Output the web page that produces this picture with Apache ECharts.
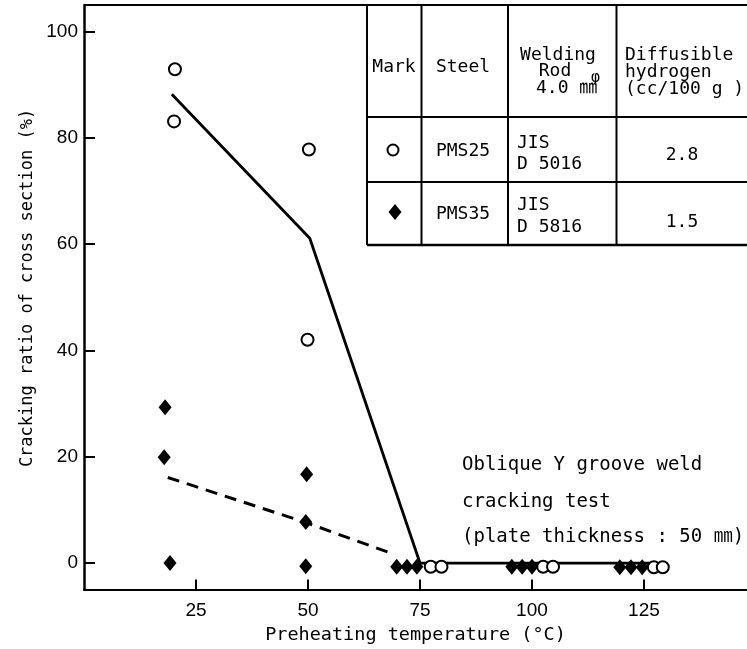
<!DOCTYPE html>
<html><head><meta charset="utf-8">
<script src="https://cdn.jsdelivr.net/npm/echarts@6/dist/echarts.min.js"></script>
<style>html,body{margin:0;padding:0;background:#fff}#c{width:747px;height:649px}</style>
</head><body><div id="c"></div>
<script>
// ---- data ----
const xTicks = [25, 50, 75, 100, 125];
const yTicks = [0, 20, 40, 60, 80, 100];
const pms25Points = [[20.3, 92.9], [20.1, 83.1], [50.2, 77.8], [49.9, 42.0],
  [77.4, -0.7], [79.8, -0.7], [102.5, -0.7], [104.7, -0.7], [127.2, -0.8], [129.2, -0.8]];
const pms35Points = [[18.1, 29.3], [17.9, 19.9], [19.2, 0], [49.7, 16.7], [49.5, 7.7], [49.5, -0.6],
  [69.8, -0.7], [72.1, -0.7], [74.3, -0.7], [95.5, -0.7], [97.8, -0.7], [100.0, -0.7],
  [119.6, -0.8], [122.1, -0.8], [124.6, -0.8]];
const pms25Trend = [[19.6, 88.2], [50.4, 61.1], [75, 0], [128, 0]];
const pms35Trend = [[18.7, 16.1], [49.6, 7.6], [69, 1.7]];
const xTitle = 'Preheating temperature (°C)';
const yTitle = 'Cracking ratio of cross section (%)';
const noteLines = ['Oblique Y groove weld', 'cracking test', '(plate thickness : 50 ㎜)'];
const headMark = 'Mark', headSteel = 'Steel';
const headRod = ['Welding', 'Rod', '4.0 ㎜', 'φ'];
const headH2 = ['Diffusible', 'hydrogen', '(cc/100 g )'];
const rowSteel = ['PMS25', 'PMS35'];
const rowRod = [['JIS', 'D 5016'], ['JIS', 'D 5816']];
const rowH2 = ['2.8', '1.5'];

// ---- layout ----
const MONO = "'DejaVu Sans Mono', 'Noto Sans CJK JP', monospace";
const SANS = "'Liberation Sans', Arial, sans-serif";
function txt(x, y, text, size, align, extra) {
  return Object.assign({ type: 'text', x: x, y: y, silent: true, z: 10,
    style: { text: text, fill: '#000', fontSize: size, fontFamily: MONO, align: align || 'left', verticalAlign: 'middle' } }, extra || {});
}
function ln(x1, y1, x2, y2, w) {
  return { type: 'line', silent: true, z: 10, shape: { x1: x1, y1: y1, x2: x2, y2: y2 }, style: { stroke: '#000', lineWidth: w || 2 } };
}
const TS = 18;
const graphic = [
  ln(84, 5, 747, 5, 2),
  // table frame
  ln(367, 5, 367, 245, 2), ln(421.5, 5, 421.5, 245, 2), ln(508, 5, 508, 245, 2), ln(616.5, 5, 616.5, 245, 2),
  ln(367, 117, 747, 117, 2), ln(367, 182, 747, 182, 2), ln(367, 245, 747, 245, 2.5),
  // header
  txt(394, 67, headMark, TS, 'center'),
  txt(463, 67, headSteel, TS, 'center'),
  txt(558, 55, headRod[0], TS, 'center'),
  txt(555, 71, headRod[1], TS, 'center'),
  txt(536, 88, headRod[2], TS, 'left'),
  txt(591, 78, headRod[3], 15, 'left'),
  txt(625, 55, headH2[0], TS, 'left'),
  txt(625, 72, headH2[1], TS, 'left'),
  txt(625, 89, headH2[2], TS, 'left'),
  // row symbols
  { type: 'circle', silent: true, z: 10, shape: { cx: 393, cy: 150, r: 5.5 }, style: { fill: '#fff', stroke: '#000', lineWidth: 2 } },
  { type: 'polygon', silent: true, z: 10, shape: { points: [[395, 204], [401.5, 212], [395, 220], [388.5, 212]] }, style: { fill: '#000' } },
  // rows
  txt(463, 151, rowSteel[0], TS, 'center'),
  txt(517, 143, rowRod[0][0], TS, 'left'),
  txt(517, 164, rowRod[0][1], TS, 'left'),
  txt(682, 155, rowH2[0], TS, 'center'),
  txt(463, 214, rowSteel[1], TS, 'center'),
  txt(517, 205, rowRod[1][0], TS, 'left'),
  txt(517, 227, rowRod[1][1], TS, 'left'),
  txt(682, 222, rowH2[1], TS, 'center'),
  // annotation
  txt(462, 465, noteLines[0], 19, 'left'),
  txt(462, 502, noteLines[1], 19, 'left'),
  txt(462, 537, noteLines[2], 19, 'left'),
  // y title
  txt(28, 288, yTitle, 17, 'center', { rotation: Math.PI / 2 })
];

const chart = echarts.init(document.getElementById('c'), null, { renderer: 'canvas' });
chart.setOption({
  backgroundColor: '#fff',
  animation: false,
  grid: { left: 84, right: 0, top: 5, bottom: 59, containLabel: false },
  xAxis: {
    type: 'value', min: 0, max: 148,
    axisLine: { onZero: false, lineStyle: { color: '#000', width: 2 } },
    axisTick: { inside: true, length: 10, customValues: xTicks, lineStyle: { color: '#000', width: 2 } },
    axisLabel: { customValues: xTicks, color: '#000', fontSize: 19, fontFamily: SANS, margin: 12 },
    splitLine: { show: false },
    name: xTitle, nameLocation: 'middle', nameGap: 34,
    nameTextStyle: { color: '#000', fontSize: 18.5, fontFamily: MONO }
  },
  yAxis: {
    type: 'value', min: -5, max: 105,
    axisLine: { onZero: false, lineStyle: { color: '#000', width: 2.5 } },
    axisTick: { inside: true, length: 11, customValues: yTicks, lineStyle: { color: '#000', width: 2 } },
    axisLabel: { customValues: yTicks, color: '#000', fontSize: 19, fontFamily: SANS, margin: 6 },
    splitLine: { show: false }
  },
  graphic: graphic,
  series: [
    { type: 'line', data: pms25Trend, symbol: 'none', silent: true, z: 2,
      lineStyle: { color: '#000', width: 2.8 } },
    { type: 'line', data: pms35Trend, symbol: 'none', silent: true, z: 2,
      lineStyle: { color: '#000', width: 3, type: [12, 8] } },
    { type: 'scatter', data: pms25Points, symbol: 'circle', symbolSize: 12, silent: true, z: 3,
      itemStyle: { color: '#fff', borderColor: '#000', borderWidth: 2, opacity: 1 } },
    { type: 'scatter', data: pms35Points, symbol: 'diamond', symbolSize: [13, 16], silent: true, z: 4,
      itemStyle: { color: '#000', opacity: 1 } }
  ]
});
</script>
</body></html>
